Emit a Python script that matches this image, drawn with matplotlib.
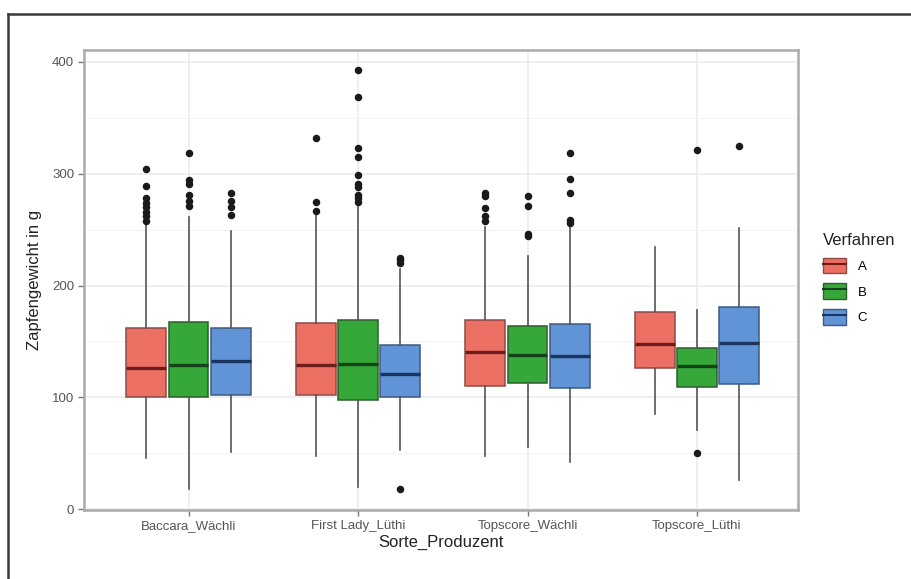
import matplotlib
matplotlib.use("Agg")
import matplotlib.pyplot as plt
from matplotlib.patches import Patch
from matplotlib.lines import Line2D
from matplotlib.legend_handler import HandlerTuple

plt.rcParams['font.family'] = ['Liberation Sans', 'DejaVu Sans']

categories = ["Baccara_Wächli", "First Lady_Lüthi", "Topscore_Wächli", "Topscore_Lüthi"]
verfahren = ["A", "B", "C"]

q1 = {"A": [100, 102, 110, 126], "B": [100, 98, 112.5, 109], "C": [102, 100, 108.5, 112]}
med = {"A": [126, 129, 141, 147.5], "B": [129, 130, 138, 128], "C": [132.5, 120.5, 137, 148.5]}
q3 = {"A": [162, 166.5, 169, 176.5], "B": [167.5, 169, 164, 144.5], "C": [162, 147, 165.5, 181]}
whislo = {"A": [46, 48, 48, 85.5], "B": [18, 20, 56, 70.5], "C": [51, 53, 42, 26]}
whishi = {"A": [256, 264.5, 252.5, 234.5], "B": [261.5, 273.5, 226.5, 178], "C": [248.5, 215, 254.5, 251.5]}

fliers_A = [[304, 289, 278, 274, 270, 266, 262, 258], [332, 275, 267], [283, 280, 269, 262, 258], []]
fliers_B = [[319, 294, 291, 281, 276, 271], [393, 369, 323, 315, 299, 291, 288, 281, 278, 275], [280, 271, 246, 244], [321, 50]]
fliers_C = [[283, 276, 270, 263], [225, 223, 220, 18], [319, 295, 283, 259, 256], [325]]
fliers = {"A": fliers_A, "B": fliers_B, "C": fliers_C}

fill = {"A": "#EC6F64", "B": "#36A83A", "C": "#6194D6"}
edge = {"A": "#8E4A45", "B": "#2C5E2E", "C": "#3E5A82"}
medc = {"A": "#6E1C18", "B": "#15421A", "C": "#1A355F"}

fig = plt.figure(figsize=(9.12, 5.79), dpi=100)
ax = fig.add_axes([84/912, 1 - 510/579, 714/912, 460/579])

offsets = {"A": -0.25, "B": 0.0, "C": 0.25}
for v in verfahren:
    stats = []
    for i in range(len(categories)):
        stats.append(dict(med=med[v][i], q1=q1[v][i], q3=q3[v][i],
                          whislo=whislo[v][i], whishi=whishi[v][i],
                          fliers=fliers[v][i]))
    pos = [i + 1 + offsets[v] for i in range(len(categories))]
    ax.bxp(stats, positions=pos, widths=0.235, patch_artist=True, showcaps=False,
           boxprops=dict(facecolor=fill[v], edgecolor=edge[v], linewidth=1.1),
           whiskerprops=dict(color="#555555", linewidth=1.2),
           medianprops=dict(color=medc[v], linewidth=2.4),
           flierprops=dict(marker="o", markerfacecolor="#1a1a1a", markeredgecolor="#1a1a1a",
                           markersize=4.4, linestyle="none"),
           zorder=3, manage_ticks=False)

ax.set_xlim(0.383, 4.596)
ax.set_ylim(-0.7, 410.7)
ax.set_xticks(range(1, len(categories) + 1))
ax.set_xticklabels(categories)
ax.set_yticks([0, 100, 200, 300, 400])
ax.set_yticks([50, 150, 250, 350], minor=True)
ax.grid(True, which="major", color="#EBEBEB", linewidth=1.1, zorder=0)
ax.grid(True, which="minor", axis="y", color="#F3F3F3", linewidth=0.7, zorder=0)
ax.set_axisbelow(True)
for s in ax.spines.values():
    s.set_color("#ABABAB")
    s.set_linewidth(1.8)
ax.tick_params(axis="both", which="major", length=4, width=1, color="#777777",
               labelcolor="#555555", labelsize=9.5, pad=3)
ax.tick_params(axis="y", which="minor", length=0)
ax.set_xlabel("Sorte_Produzent", fontsize=12, color="#222222", labelpad=2)
ax.set_ylabel("Zapfengewicht in g", fontsize=12, color="#222222", labelpad=7)

handles = []
for v in verfahren:
    p = Patch(facecolor=fill[v], edgecolor=edge[v], linewidth=1.0)
    l = Line2D([], [], color=medc[v], linewidth=1.5)
    handles.append((p, l))
leg = fig.legend(handles, verfahren, title="Verfahren", loc="upper left",
                 bbox_to_anchor=(811/912, 1 - 221/579), frameon=False,
                 fontsize=9.5, title_fontsize=12, handlelength=1.75, handleheight=1.45,
                 labelspacing=0.75, handletextpad=0.9, alignment="left",
                 handler_map={tuple: HandlerTuple(ndivide=1, pad=0)})
leg.get_title().set_color("#222222")

# outer frame lines (top and left)
fig.add_artist(Line2D([8/912, 1.0], [1 - 13.5/579, 1 - 13.5/579], transform=fig.transFigure,
                      color="#3A3A3A", linewidth=1.8))
fig.add_artist(Line2D([8/912, 8/912], [0.0, 1 - 13.5/579], transform=fig.transFigure,
                      color="#3A3A3A", linewidth=1.8))

fig.savefig("out.png", dpi=100)
